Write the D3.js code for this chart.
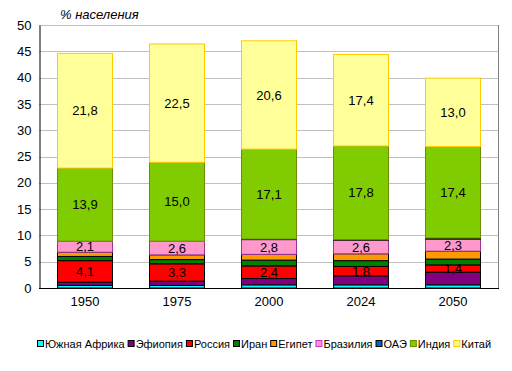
<!DOCTYPE html>
<html>
<head>
<meta charset="utf-8">
<script src="https://cdn.jsdelivr.net/npm/d3@7"></script>
<style>
body{margin:0;background:#fff;}
text{font-family:Arial,"Liberation Sans",sans-serif;}
</style>
</head>
<body>
<svg id="svg1" width="512" height="371"></svg>
<script>
// данные: доля населения, %
var years = ["1950","1975","2000","2024","2050"];
var countries = ["Южная Африка","Эфиопия","Россия","Иран","Египет","Бразилия","ОАЭ","Индия","Китай"];
var southAfrica = [0.5, 0.5, 0.6, 0.6, 0.6];
var ethiopia    = [0.6, 0.8, 1.2, 1.7, 2.4];
var russia      = [4.1, 3.3, 2.4, 1.8, 1.4];
var iran        = [0.8, 0.8, 1.1, 1.1, 1.1];
var egypt       = [0.8, 0.9, 1.1, 1.3, 1.5];
var brazil      = [2.1, 2.6, 2.8, 2.6, 2.3];
var uae         = [0.0, 0.0, 0.1, 0.1, 0.2];
var india       = [13.9, 15.0, 17.1, 17.8, 17.4];
var china       = [21.8, 22.5, 20.6, 17.4, 13.0];
var yTicks = [0,5,10,15,20,25,30,35,40,45,50];

var fills   = ["#00ffff","#800080","#ff0000","#008000","#ff9900","#ff99cc","#0066cc","#80cc00","#ffff99"];
var strokes = ["#000","#000","#000","#000","#000","#993399","#000","#6b8e00","#ffcc00"];
var labeled = [false,false,true,false,false,true,false,true,true];

var series = [southAfrica,ethiopia,russia,iran,egypt,brazil,uae,india,china];
var rows = years.map(function(y,i){
	var r = {year:y};
	countries.forEach(function(c,k){ r[c] = series[k][i]; });
	return r;
});
var stacked = d3.stack().keys(countries)(rows);

var svg = d3.select("#svg1");
var pLeft = 39, pRight = 499, pTop = 25, pBottom = 288;

var scaleX = d3.scaleBand().domain(years).range([pLeft,pRight]).paddingInner(0.4).paddingOuter(0.2);
var scaleY = d3.scaleLinear().domain([0,50]).range([pBottom,pTop]);

// сетка
svg.append("g").selectAll("line").data(yTicks.filter(function(t){return t>0;})).join("line")
	.attr("x1",pLeft).attr("x2",pRight)
	.attr("y1",function(d){return Math.round(scaleY(d))+0.5;})
	.attr("y2",function(d){return Math.round(scaleY(d))+0.5;})
	.attr("stroke","#c0c0c0");
svg.append("line").attr("x1",pRight-0.5).attr("x2",pRight-0.5).attr("y1",pTop).attr("y2",pBottom)
	.attr("stroke","#808080");

// столбики
var gBars = svg.append("g");
stacked.forEach(function(s,k){
	gBars.append("g").selectAll("rect").data(s).join("rect")
		.attr("x",function(d){return Math.round(scaleX(d.data.year))+0.5;})
		.attr("width",Math.round(scaleX.bandwidth()))
		.attr("y",function(d){return scaleY(d[1]);})
		.attr("height",function(d){return scaleY(d[0])-scaleY(d[1]);})
		.attr("fill",fills[k]).attr("stroke",strokes[k]).attr("stroke-width",1);
});

// подписи значений
stacked.forEach(function(s,k){
	if(!labeled[k]) return;
	gBars.append("g").selectAll("text").data(s).join("text")
		.attr("x",function(d){return scaleX(d.data.year)+scaleX.bandwidth()/2;})
		.attr("y",function(d){return (scaleY(d[0])+scaleY(d[1]))/2;})
		.attr("dy","0.35em").attr("text-anchor","middle")
		.attr("font-size",13).attr("fill","#000")
		.text(function(d){return d3.format(".1f")(d[1]-d[0]).replace(".",",");});
});

// оси
var axisY = d3.axisLeft(scaleY).tickValues(yTicks).tickSize(0).tickPadding(8);
var gAxisY = svg.append("g").attr("transform","translate("+(pLeft+0.5)+",0)").call(axisY);
gAxisY.select(".domain").attr("stroke","#000");
gAxisY.selectAll("text").attr("font-size",13).attr("font-family","Arial,'Liberation Sans',sans-serif");

var axisX = d3.axisBottom(scaleX).tickSize(0).tickPadding(8);
var gAxisX = svg.append("g").attr("transform","translate(0,"+(pBottom+0.5)+")").call(axisX);
gAxisX.select(".domain").attr("stroke","#000").attr("d","M"+pLeft+",0H"+pRight);
gAxisX.selectAll("text").attr("font-size",13).attr("font-family","Arial,'Liberation Sans',sans-serif");

svg.append("text").attr("x",60).attr("y",19).attr("font-size",13).attr("font-style","italic")
	.text("% населения");

// легенда
var gLeg = svg.append("g").attr("transform","translate(37,344)");
var lx = 0;
countries.forEach(function(c,k){
	gLeg.append("rect").attr("x",lx+0.5).attr("y",-3.5).attr("width",6).attr("height",6)
		.attr("fill",fills[k]).attr("stroke",k==5?"#cc33cc":(k==8?"#ffcc00":(k==7?"#6b8e00":"#000")));
	var t = gLeg.append("text").attr("x",lx+8).attr("y",0).attr("dy","0.35em")
		.attr("font-size",11).text(c);
	lx += 8 + t.node().getComputedTextLength() + 3;
});
</script>
</body>
</html>
